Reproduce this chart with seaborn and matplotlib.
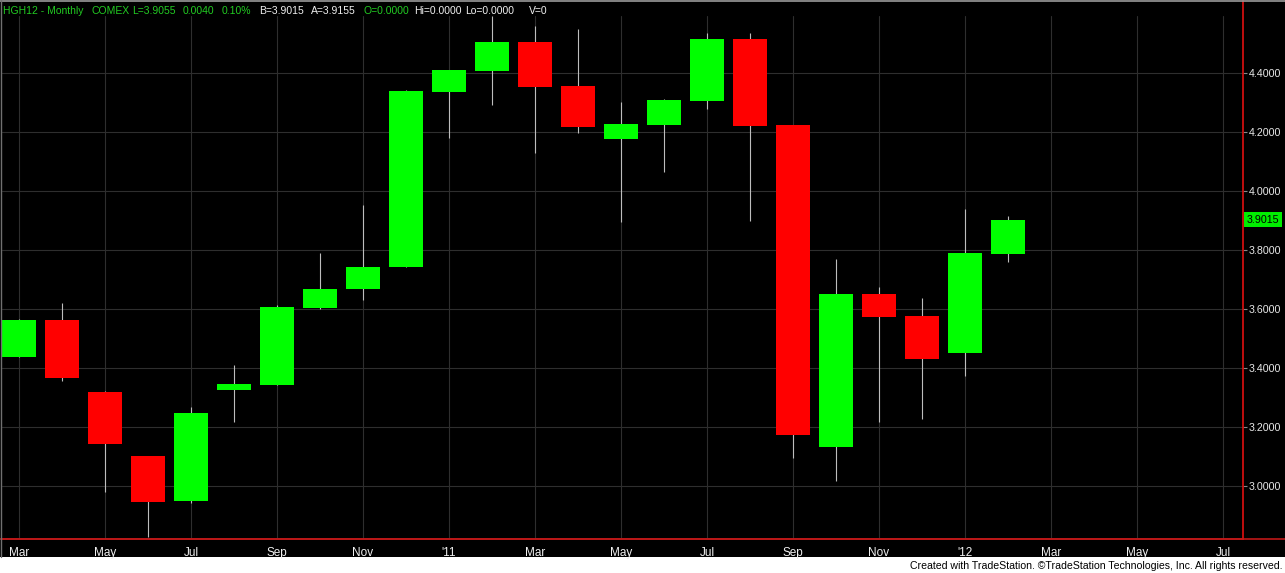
import matplotlib
matplotlib.use('Agg')
import matplotlib.pyplot as plt
import matplotlib.transforms as mtransforms
from matplotlib.lines import Line2D
from matplotlib.patches import Rectangle
import seaborn as sns
import pandas as pd

# Monthly copper futures (HGH12), Mar 2010 .. Feb 2012
months = ['2010-03', '2010-04', '2010-05', '2010-06', '2010-07', '2010-08', '2010-09', '2010-10',
          '2010-11', '2010-12', '2011-01', '2011-02', '2011-03', '2011-04', '2011-05', '2011-06',
          '2011-07', '2011-08', '2011-09', '2011-10', '2011-11', '2011-12', '2012-01', '2012-02']
opens = [3.437, 3.562, 3.318, 3.101, 2.949, 3.325, 3.342, 3.603, 3.667, 3.741, 4.336, 4.407,
         4.504, 4.355, 4.176, 4.223, 4.305, 4.514, 4.223, 3.132, 3.650, 3.575, 3.451, 3.785]
highs = [3.565, 3.620, 3.320, 3.101, 3.268, 3.409, 3.612, 3.789, 3.952, 4.340, 4.410, 4.592,
         4.558, 4.547, 4.302, 4.310, 4.534, 4.534, 4.223, 3.768, 3.673, 3.637, 3.938, 3.914]
lows = [3.435, 3.353, 2.980, 2.825, 2.940, 3.214, 3.342, 3.600, 3.630, 3.741, 4.178, 4.290,
        4.129, 4.197, 3.895, 4.064, 4.276, 3.897, 3.093, 3.014, 3.214, 3.225, 3.372, 3.758]
closes = [3.562, 3.366, 3.142, 2.946, 3.246, 3.344, 3.606, 3.667, 3.741, 4.339, 4.409, 4.504,
          4.353, 4.217, 4.226, 4.307, 4.514, 4.219, 3.170, 3.650, 3.573, 3.430, 3.789, 3.9015]
last_price = 3.9015

x_tick_labels = ['Mar', 'May', 'Jul', 'Sep', 'Nov', "'11", 'Mar', 'May', 'Jul', 'Sep', 'Nov',
                 "'12", 'Mar', 'May', 'Jul']
y_ticks = [3.0, 3.2, 3.4, 3.6, 3.8, 4.0, 4.2, 4.4]

header = [('HGH12 - Monthly', 3, 'g'), ('COMEX', 91, 'g'), ('L=3.9055', 132, 'g'),
          ('0.0040', 183, 'g'), ('0.10%', 222, 'g'), ('B=3.9015', 259, 'w'),
          ('A=3.9155', 311, 'w'), ('O=0.0000', 364, 'g'), ('Hi=0.0000', 414, 'w'),
          ('Lo=0.0000', 465, 'w'), ('V=0', 529, 'w')]

df = pd.DataFrame({'month': months, 'open': opens, 'high': highs, 'low': lows, 'close': closes})
df['idx'] = range(len(df))
df['up'] = df['close'] >= df['open']
df['bottom'] = df[['open', 'close']].min(axis=1)
df['height'] = (df['close'] - df['open']).abs()

sns.set_style('dark', {'axes.facecolor': 'black', 'figure.facecolor': 'white',
                       'grid.color': '#2e2e2e'})
plt.rcParams['font.family'] = ['Liberation Sans', 'DejaVu Sans']

W, H = 1285, 573
fig = plt.figure(figsize=(W / 100, H / 100), dpi=100)
# black chart area above the white credit strip
fig.patches.append(Rectangle((0, 16 / H), 1, 1 - 16 / H, transform=fig.transFigure,
                             facecolor='black', edgecolor='none', zorder=-10))
ax = fig.add_axes([2 / W, (H - 539) / H, (1243 - 2) / W, (539 - 1) / H])
ax.set_facecolor('black')

# gridlines
ax.set_yticks(y_ticks)
ax.yaxis.grid(True, color='#2e2e2e', linewidth=0.8)
ax.xaxis.grid(False)
tick_pos = list(range(0, 2 * len(x_tick_labels), 2))
for t in tick_pos:
    ax.axvline(t, ymin=0, ymax=0.972, color='#2e2e2e', linewidth=0.8, zorder=0.5)

# wicks then bodies
ax.vlines(df['idx'], df['low'], df['high'], color='#bdbdbd', linewidth=0.8, zorder=2)
colors = ['#00ff00' if u else '#ff0000' for u in df['up']]
ax.bar(df['idx'], df['height'], bottom=df['bottom'], width=0.81, color=colors,
       edgecolor='none', zorder=3)

ax.set_xlim(-0.395, 28.465)
ax.set_ylim(2.819, 4.643)

ax.set_xticks(tick_pos)
ax.set_xticklabels(x_tick_labels)
ax.yaxis.tick_right()
ax.set_yticklabels([f'{v:.4f}' for v in y_ticks])
ax.tick_params(axis='x', colors='#f0f0f0', labelsize=8.5, length=4, direction='inout',
               pad=4)
ax.tick_params(axis='x', which='both', color='#cc2020')
ax.tick_params(axis='y', colors='#e8e8e8', labelsize=7.7, length=3, pad=1,
               color='#8a8a8a')

for s in ['left', 'top']:
    ax.spines[s].set_visible(False)
ax.spines['right'].set_color('#e01010')
ax.spines['right'].set_linewidth(1.2)
ax.spines['bottom'].set_color('#c01818')
ax.spines['bottom'].set_linewidth(1.2)

# red base line continues under the price scale
fig.add_artist(Line2D([0, 1], [(H - 539) / H] * 2, color='#c01818', linewidth=1.2))
# thin grey frame on top and left
fig.add_artist(Line2D([0, 1], [1 - 0.5 / H] * 2, color='#9a9a9a', linewidth=1.2))
fig.add_artist(Line2D([0.5 / W] * 2, [16 / H, 1], color='#707070', linewidth=1.0))

# last price marker on price scale
trans = mtransforms.blended_transform_factory(ax.transAxes, ax.transData)
ax.text(1.003, last_price, f'{last_price:.4f}', transform=trans, ha='left', va='center',
        fontsize=7.7, color='black', clip_on=False,
        bbox=dict(facecolor='#00ee00', edgecolor='none', pad=1.8))

# header line
for txt, px, c in header:
    fig.text(px / W, 1 - 11 / H, txt, ha='left', va='center', fontsize=7.5,
             color='#22cc22' if c == 'g' else '#f0f0f0')

fig.text(1282 / W, 1 - 566 / H,
         'Created with TradeStation. \u00a9TradeStation Technologies, Inc. All rights reserved.',
         ha='right', va='center', fontsize=7.6, color='black')

fig.savefig('out.png', dpi=100, facecolor='white')
